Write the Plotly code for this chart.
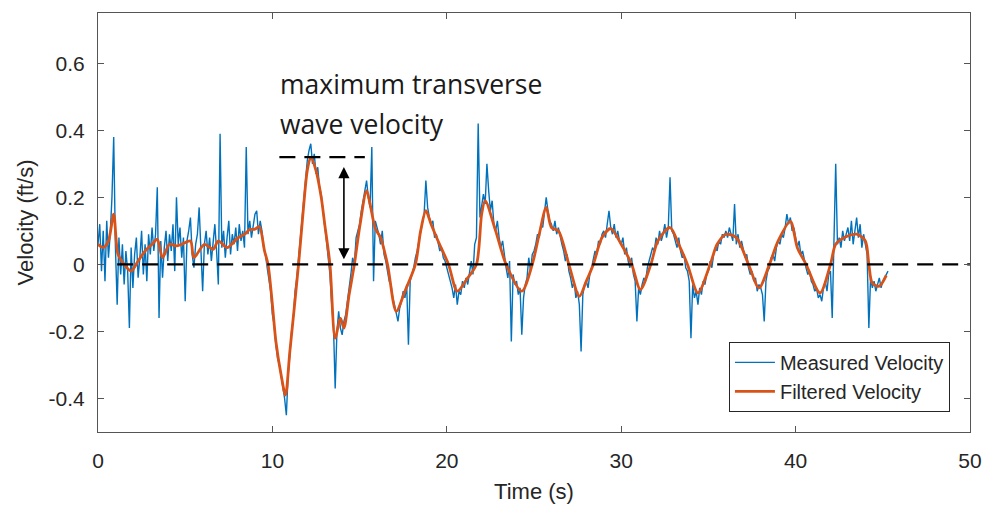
import plotly.graph_objects as go

# ---------------- data ----------------
meas_t0 = 0.0
meas_dt = 0.1
measured_velocity = [
    0.06, 0.12, -0.02, 0.10, -0.05, 0.13, 0.02, 0.09, 0.20, 0.38,
    0.05, -0.12, 0.08, -0.03, 0.06, -0.06, 0.04, -0.02, -0.19, 0.05,
    -0.07, 0.03, 0.08, -0.04, 0.02, 0.10, -0.03, 0.06, -0.05, 0.09,
    0.03, 0.11, 0.04, 0.09, 0.23, -0.16, 0.07, -0.04, 0.05, 0.10,
    0.01, 0.09, 0.04, 0.12, -0.02, 0.20, 0.06, 0.11, 0.02, 0.08,
    -0.11, 0.07, 0.10, 0.14, 0.03, -0.01, 0.06, 0.09, 0.17, 0.02,
    -0.08, 0.06, 0.10, 0.03, 0.08, 0.01, 0.07, 0.12, 0.04, -0.06,
    0.39, 0.05, 0.10, 0.02, 0.08, 0.13, 0.03, 0.09, 0.06, 0.11,
    0.04, 0.12, 0.07, 0.10, 0.05, 0.35, 0.09, 0.13, 0.08, 0.11,
    0.15, 0.16, 0.09, 0.13, 0.10, 0.05, 0.03, -0.01, -0.04, -0.08,
    -0.15, -0.18, -0.24, -0.28, -0.30, -0.33, -0.36, -0.40, -0.45, -0.33,
    -0.27, -0.20, -0.16, -0.08, -0.04, 0.02, 0.08, 0.15, 0.21, 0.26,
    0.31, 0.34, 0.36, 0.30, 0.33, 0.27, 0.29, 0.23, 0.21, 0.16,
    0.12, 0.07, 0.02, -0.03, -0.12, -0.18, -0.37, -0.20, -0.14, -0.19,
    -0.21, -0.17, -0.15, -0.10, -0.07, -0.03, 0.02, 0.00, 0.08, 0.10,
    0.12, 0.16, 0.19, 0.23, 0.25, 0.20, 0.17, 0.35, -0.05, 0.13,
    0.11, 0.09, 0.06, 0.10, 0.03, 0.01, -0.02, -0.05, -0.06, -0.10,
    -0.12, -0.15, -0.17, -0.13, -0.11, -0.08, -0.10, -0.06, -0.24, -0.05,
    -0.03, -0.01, 0.02, 0.04, 0.07, 0.10, 0.12, 0.15, 0.25, 0.17,
    0.14, 0.12, 0.13, 0.08, 0.09, 0.06, 0.04, 0.05, 0.02, 0.01,
    -0.01, -0.03, -0.05, -0.07, -0.10, -0.06, -0.12, -0.08, -0.09, -0.05,
    -0.07, -0.04, -0.06, -0.02, 0.01, -0.03, 0.06, 0.08, 0.42, 0.14,
    0.17, 0.21, 0.18, 0.30, 0.22, 0.16, 0.19, 0.12, 0.10, 0.13,
    0.08, 0.05, 0.07, 0.02, -0.01, -0.04, 0.01, -0.23, -0.03, -0.06,
    -0.05, -0.09, -0.07, -0.21, -0.10, -0.06, -0.04, 0.02, -0.02, 0.03,
    0.04, 0.06, 0.09, 0.08, 0.12, 0.11, 0.15, 0.20, 0.16, 0.13,
    0.12, 0.10, 0.13, 0.09, 0.11, 0.08, 0.06, 0.04, 0.01, 0.03,
    -0.02, -0.04, -0.07, -0.05, -0.10, -0.08, -0.12, -0.26, -0.09, -0.06,
    -0.05, -0.07, -0.03, -0.01, 0.02, 0.04, 0.03, 0.07, 0.06, 0.09,
    0.10, 0.08, 0.12, 0.16, 0.11, 0.09, 0.12, 0.08, 0.10, 0.07,
    0.06, 0.08, 0.03, 0.05, 0.01, -0.01, 0.02, -0.03, -0.05, -0.17,
    -0.07, -0.09, -0.06, -0.04, -0.05, -0.01, 0.01, 0.03, 0.05, 0.04,
    0.08, 0.06, 0.10, 0.07, 0.09, 0.12, 0.08, 0.11, 0.26, 0.10,
    0.09, 0.07, 0.05, 0.08, 0.04, 0.02, 0.03, -0.01, -0.02, -0.05,
    -0.22, -0.06, -0.10, -0.08, -0.12, -0.07, -0.09, -0.05, -0.06, -0.03,
    -0.02, 0.01, -0.01, 0.03, 0.05, 0.04, 0.07, 0.06, 0.09, 0.08,
    0.10, 0.08, 0.11, 0.09, 0.07, 0.18, 0.06, 0.09, 0.05, 0.07,
    0.04, 0.02, 0.03, -0.01, -0.03, -0.02, -0.05, -0.04, -0.08, -0.06,
    -0.07, -0.09, -0.17, -0.05, -0.02, -0.01, 0.02, 0.03, 0.01, 0.05,
    0.07, 0.06, 0.09, 0.08, 0.11, 0.15, 0.12, 0.14, 0.10, 0.11,
    0.08, 0.05, 0.07, 0.03, 0.04, 0.01, -0.01, -0.03, -0.02, -0.05,
    -0.06, -0.08, -0.07, -0.10, -0.09, -0.11, -0.07, -0.05, -0.08, -0.03,
    -0.02, -0.16, 0.03, 0.30, 0.06, 0.08, 0.05, 0.10, 0.07, 0.09,
    0.11, 0.07, 0.13, 0.06, 0.10, 0.14, 0.08, 0.12, 0.05, 0.09,
    0.06, 0.03, -0.19, -0.04, -0.07, -0.05, -0.08, -0.06, -0.04, -0.07,
    -0.05, -0.04, -0.03, -0.02,
]
meas_time = [round(meas_t0 + i * meas_dt, 2) for i in range(len(measured_velocity))]

filtered_time = [
    0.0, 0.3, 0.6, 0.9, 1.15, 1.5, 1.9, 2.3, 2.7, 3.1, 3.4, 3.7, 4.1, 4.5, 4.8,
    5.3, 5.5, 6.1, 6.6, 6.9, 7.4, 8.0, 8.4, 8.7, 9.0, 9.25, 9.55, 9.75, 10.0,
    10.2, 10.5, 10.75, 11.0, 11.5, 11.8, 12.0, 12.2, 12.5, 12.8, 13.0, 13.3,
    13.6, 13.9, 14.1, 14.4, 14.7, 15.0, 15.4, 15.6, 15.9, 16.2, 16.6, 17.1,
    17.6, 18.2, 18.5, 18.8, 19.1, 19.5, 20.1, 20.6, 21.2, 21.7, 22.0, 22.2,
    22.8, 23.4, 24.3, 24.9, 25.3, 25.7, 26.0, 26.4, 27.0, 27.6, 28.0, 28.4,
    28.9, 29.4, 30.0, 30.6, 31.1, 31.7, 32.1, 32.8, 33.3, 33.8, 34.4, 35.1,
    35.5, 36.0, 36.6, 37.3, 37.9, 38.5, 39.0, 39.7, 40.1, 40.6, 41.4, 42.0,
    42.3, 42.8, 43.5, 44.0, 44.2, 44.4, 44.8, 45.2,
]
filtered_velocity = [
    0.06, 0.05, 0.07, 0.15, 0.03, 0.0, -0.02, 0.01, 0.04, 0.06, 0.075, 0.02,
    0.06, 0.055, 0.06, 0.07, 0.02, 0.06, 0.045, 0.07, 0.05, 0.078, 0.09,
    0.104, 0.105, 0.113, 0.04, 0.0, -0.12, -0.23, -0.33, -0.39, -0.26, 0.0,
    0.18, 0.28, 0.32, 0.28, 0.2, 0.12, 0.0, -0.22, -0.16, -0.19, -0.09, 0.0,
    0.11, 0.22, 0.18, 0.107, 0.08, 0.0, -0.14, -0.08, 0.0, 0.1, 0.16, 0.12,
    0.07, 0.0, -0.08, -0.04, 0.0, 0.15, 0.19, 0.1, 0.0, -0.08, 0.0, 0.09,
    0.17, 0.11, 0.10, 0.0, -0.095, -0.05, 0.0, 0.08, 0.107, 0.06, 0.0,
    -0.075, 0.0, 0.07, 0.11, 0.06, 0.0, -0.085, 0.0, 0.06, 0.09, 0.08, 0.0,
    -0.07, 0.0, 0.07, 0.128, 0.05, 0.0, -0.085, 0.0, 0.06, 0.08, 0.09, 0.07,
    0.0, -0.056, -0.065, -0.033,
]

x_ticks = [0, 10, 20, 30, 40, 50]
y_ticks = [-0.4, -0.2, 0, 0.2, 0.4, 0.6]
y_tick_labels = ["-0.4", "-0.2", "0", "0.2", "0.4", "0.6"]

zero_line_t = [1.1, 50]
max_level = 0.32
max_line_t = [10.4, 15.3]
arrow_t = 14.1

# ---------------- figure ----------------
BLUE = "#0072BD"
ORANGE = "#D95319"
AXIS_FONT = "Liberation Sans, Arial, sans-serif"

fig = go.Figure()
fig.add_trace(go.Scatter(
    x=meas_time, y=measured_velocity, mode="lines", name="Measured Velocity",
    line=dict(color=BLUE, width=1.4),
))
fig.add_trace(go.Scatter(
    x=filtered_time, y=filtered_velocity, mode="lines", name="Filtered Velocity",
    line=dict(color=ORANGE, width=2.8, shape="spline", smoothing=0.8),
))
fig.add_trace(go.Scatter(
    x=zero_line_t, y=[0, 0], mode="lines", showlegend=False, hoverinfo="skip",
    line=dict(color="black", width=2.4, dash="16px,9px"),
))
fig.add_trace(go.Scatter(
    x=max_line_t, y=[max_level, max_level], mode="lines", showlegend=False,
    hoverinfo="skip", line=dict(color="black", width=2.4, dash="16px,9px"),
))

fig.add_annotation(
    x=arrow_t, y=0.015, ax=arrow_t, ay=max_level - 0.025,
    xref="x", yref="y", axref="x", ayref="y", text="", showarrow=True,
    arrowhead=2, startarrowhead=2, arrowside="end+start", arrowsize=1.4,
    startarrowsize=1.4, arrowwidth=1.6, arrowcolor="black",
)
fig.add_annotation(
    x=10.3, y=0.537, xref="x", yref="y", text="maximum transverse",
    showarrow=False, xanchor="left", yanchor="middle",
    font=dict(family="Open Sans", size=26.5, color="#1a1a1a"),
)
fig.add_annotation(
    x=10.3, y=0.42, xref="x", yref="y", text="wave velocity",
    showarrow=False, xanchor="left", yanchor="middle",
    font=dict(family="Open Sans", size=26.5, color="#1a1a1a"),
)

fig.update_layout(
    width=987, height=510,
    margin=dict(l=98, r=17, t=13, b=78),
    paper_bgcolor="white", plot_bgcolor="white",
    font=dict(family=AXIS_FONT, size=21, color="#262626"),
    showlegend=True,
    legend=dict(
        x=0.977, y=0.048, xanchor="right", yanchor="bottom",
        bgcolor="white", bordercolor="#262626", borderwidth=1,
        font=dict(family=AXIS_FONT, size=20, color="#262626"),
        tracegroupgap=2, itemwidth=40,
    ),
)
fig.update_xaxes(
    range=[0, 50], tickvals=x_ticks, ticktext=[str(v) for v in x_ticks],
    showgrid=False, zeroline=False, showline=True, linecolor="#555555",
    linewidth=1.2, mirror="ticks", ticks="inside", ticklen=6, tickcolor="#555555",
    ticklabelstandoff=10, automargin=False,
    title=dict(text="Time (s)", font=dict(size=22, family=AXIS_FONT), standoff=12),
)
fig.update_yaxes(
    range=[-0.5, 0.75], tickvals=y_ticks, ticktext=y_tick_labels,
    showgrid=False, zeroline=False, showline=True, linecolor="#555555",
    linewidth=1.2, mirror="ticks", ticks="inside", ticklen=6, tickcolor="#555555",
    ticklabelstandoff=8, automargin=False,
    title=dict(text="Velocity (ft/s)", font=dict(size=22, family=AXIS_FONT), standoff=8),
)

fig.write_html("out.html")
